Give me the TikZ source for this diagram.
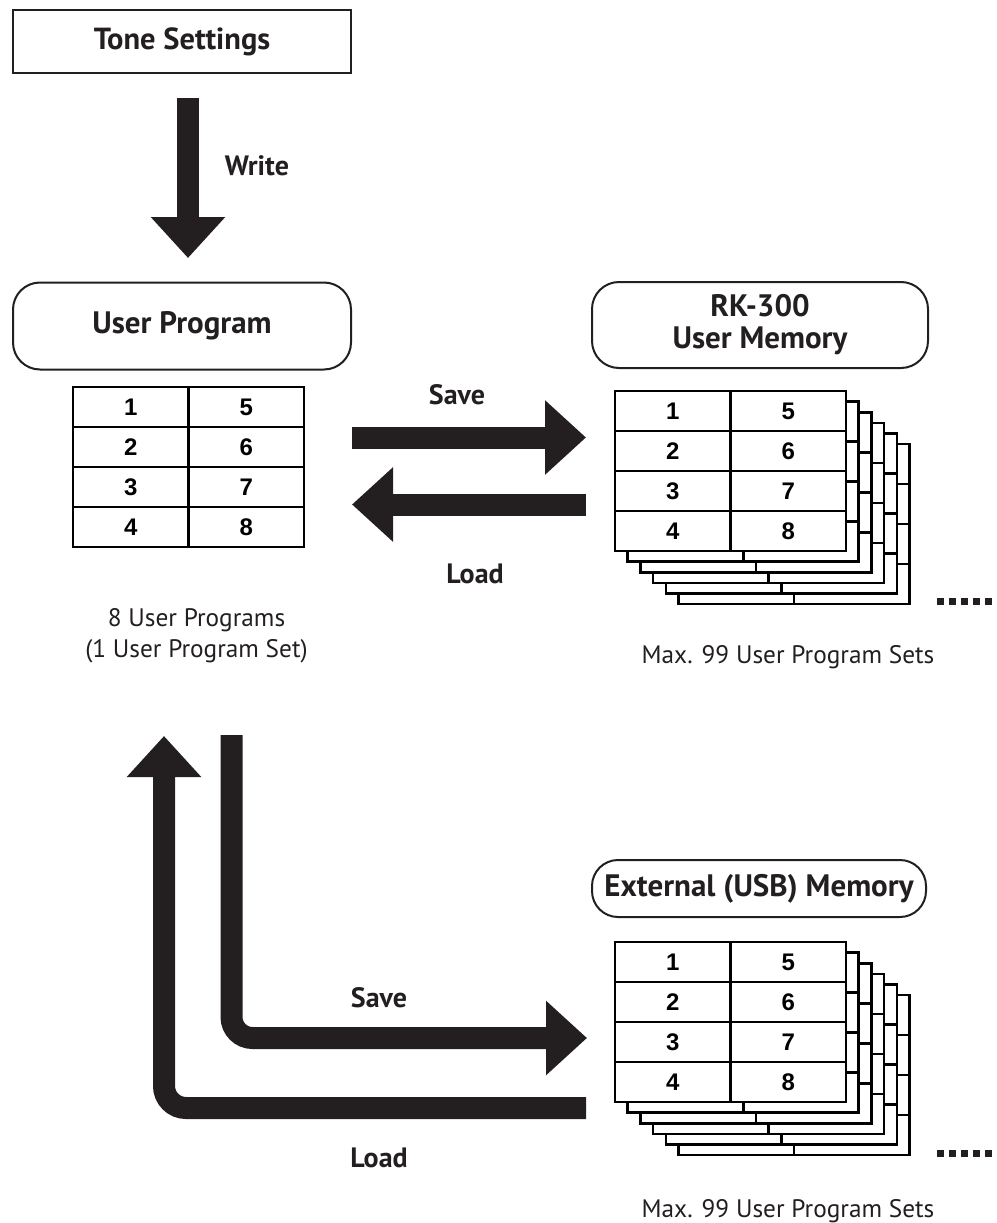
\documentclass[tikz,border=0pt]{standalone}
\usepackage{fontspec}
\setmainfont{PT Sans}
\newfontfamily\numfont{Liberation Sans}
\usetikzlibrary{arrows.meta}
\definecolor{ink}{HTML}{231F20}

\newcommand\tgrid[2]{%
  \draw[tableline, fill=white] (#1,#2) rectangle ++(231,160);
  \draw[tableline] (#1+115.5,#2) -- ++(0,160);
  \foreach \r in {1,2,3} {\draw[tableline] (#1,#2+\r*40) -- ++(231,0);}
}
\newcommand\tnums[3]{%
  \foreach \n [count=\i from 0] in {1,2,3,4} {%
    \node[numtext] (#1-\n) at (#2+57.75,#3+20+\i*40) {\n};}
  \foreach \n [count=\i from 0] in {5,6,7,8} {%
    \node[numtext] (#1-\n) at (#2+173.25,#3+20+\i*40) {\n};}
}
\newcommand\tstack[3]{%
  \foreach \k in {5,4,3,2,1} {%
    \pgfmathsetmacro\px{#2+\k*12.7}%
    \pgfmathsetmacro\py{#3+\k*10.6}%
    \tgrid{\px}{\py}}
  \tgrid{#2}{#3}
  \tnums{#1}{#2}{#3}
}
\newcommand\tdots[2]{%
  \foreach \d in {0,1,2,3,4} {\fill[ink] (#1+\d*12,#2) rectangle ++(6.5,6.5);}
}

\begin{document}
\begin{tikzpicture}[x=1pt,y=-1pt,
  tableline/.style={draw=black, line width=2.6pt},
  numtext/.style={font=\numfont\bfseries\fontsize{24}{26}\selectfont, text=black, inner sep=0pt},
  sqbox/.style={draw=ink, line width=2pt, minimum width=338pt, minimum height=63pt, inner sep=0pt,
    font=\bfseries\fontsize{30.5}{34}\selectfont, text=ink},
  rbox/.style={draw=ink, line width=2pt, rounded corners=27pt, inner sep=0pt,
    font=\bfseries\fontsize{31}{34}\selectfont, text=ink, align=center},
  blockarrow/.style={draw=ink, line width=22pt, -{Triangle[length=41pt,width=72pt]}},
  lab/.style={font=\bfseries\fontsize{28}{32}\selectfont, text=ink, anchor=base, inner sep=0pt},
  note/.style={font=\fontsize{25.3}{28}\selectfont, text=ink, anchor=base, inner sep=0pt}]
\useasboundingbox (0,0) rectangle (996,1223);

% boxes
\node[sqbox] (tone) at (182,41.5) {Tone Settings};
\node[rbox, minimum width=338pt, minimum height=87pt] (up) at (182,326) {User Program};
\node[rbox, minimum width=336pt, minimum height=86pt] (rk) at (760,325)
  {RK-300\\[-2pt]User Memory};
\node[rbox, rounded corners=26pt, minimum width=334pt, minimum height=57pt] (ext) at (759,888.5)
  {External (USB) Memory};

% tables
\tgrid{73}{387}
\tnums{upt}{73}{387}
\tstack{rkt}{615}{391}
\tstack{ext}{615}{942}
\tdots{937}{598}
\tdots{937}{1150}

% arrows
\coordinate (w1) at (188,98);
\coordinate (w2) at (188,258);
\draw[blockarrow] (w1) -- (w2);
\node[lab] (write) at (257,175) {Write};

\coordinate (s1) at (352,437.5);
\coordinate (s2) at (586,437.5);
\draw[blockarrow] (s1) -- (s2);
\coordinate (l1) at (586,504.5);
\coordinate (l2) at (352,504.5);
\draw[blockarrow] (l1) -- (l2);
\node[lab] (save1) at (457,404) {Save};
\node[lab] (load1) at (475,583) {Load};

\coordinate (bs1) at (231.5,735);
\coordinate (bs2) at (231.5,1038);
\coordinate (bs3) at (587,1038);
\draw[blockarrow, rounded corners=21pt] (bs1) -- (bs2) -- (bs3);
\coordinate (bl1) at (586,1108);
\coordinate (bl2) at (164,1108);
\coordinate (bl3) at (164,736);
\draw[blockarrow, rounded corners=22pt] (bl1) -- (bl2) -- (bl3);
\node[lab] (save2) at (379,1007) {Save};
\node[lab] (load2) at (379,1167) {Load};

% notes
\node[note] (n1) at (196.5,626) {8 User Programs};
\node[note] (n2) at (196.5,657) {(1 User Program Set)};
\node[note] (n3) at (788,663) {Max. 99 User Program Sets};
\node[note] (n4) at (788,1217) {Max. 99 User Program Sets};
\end{tikzpicture}
\end{document}
